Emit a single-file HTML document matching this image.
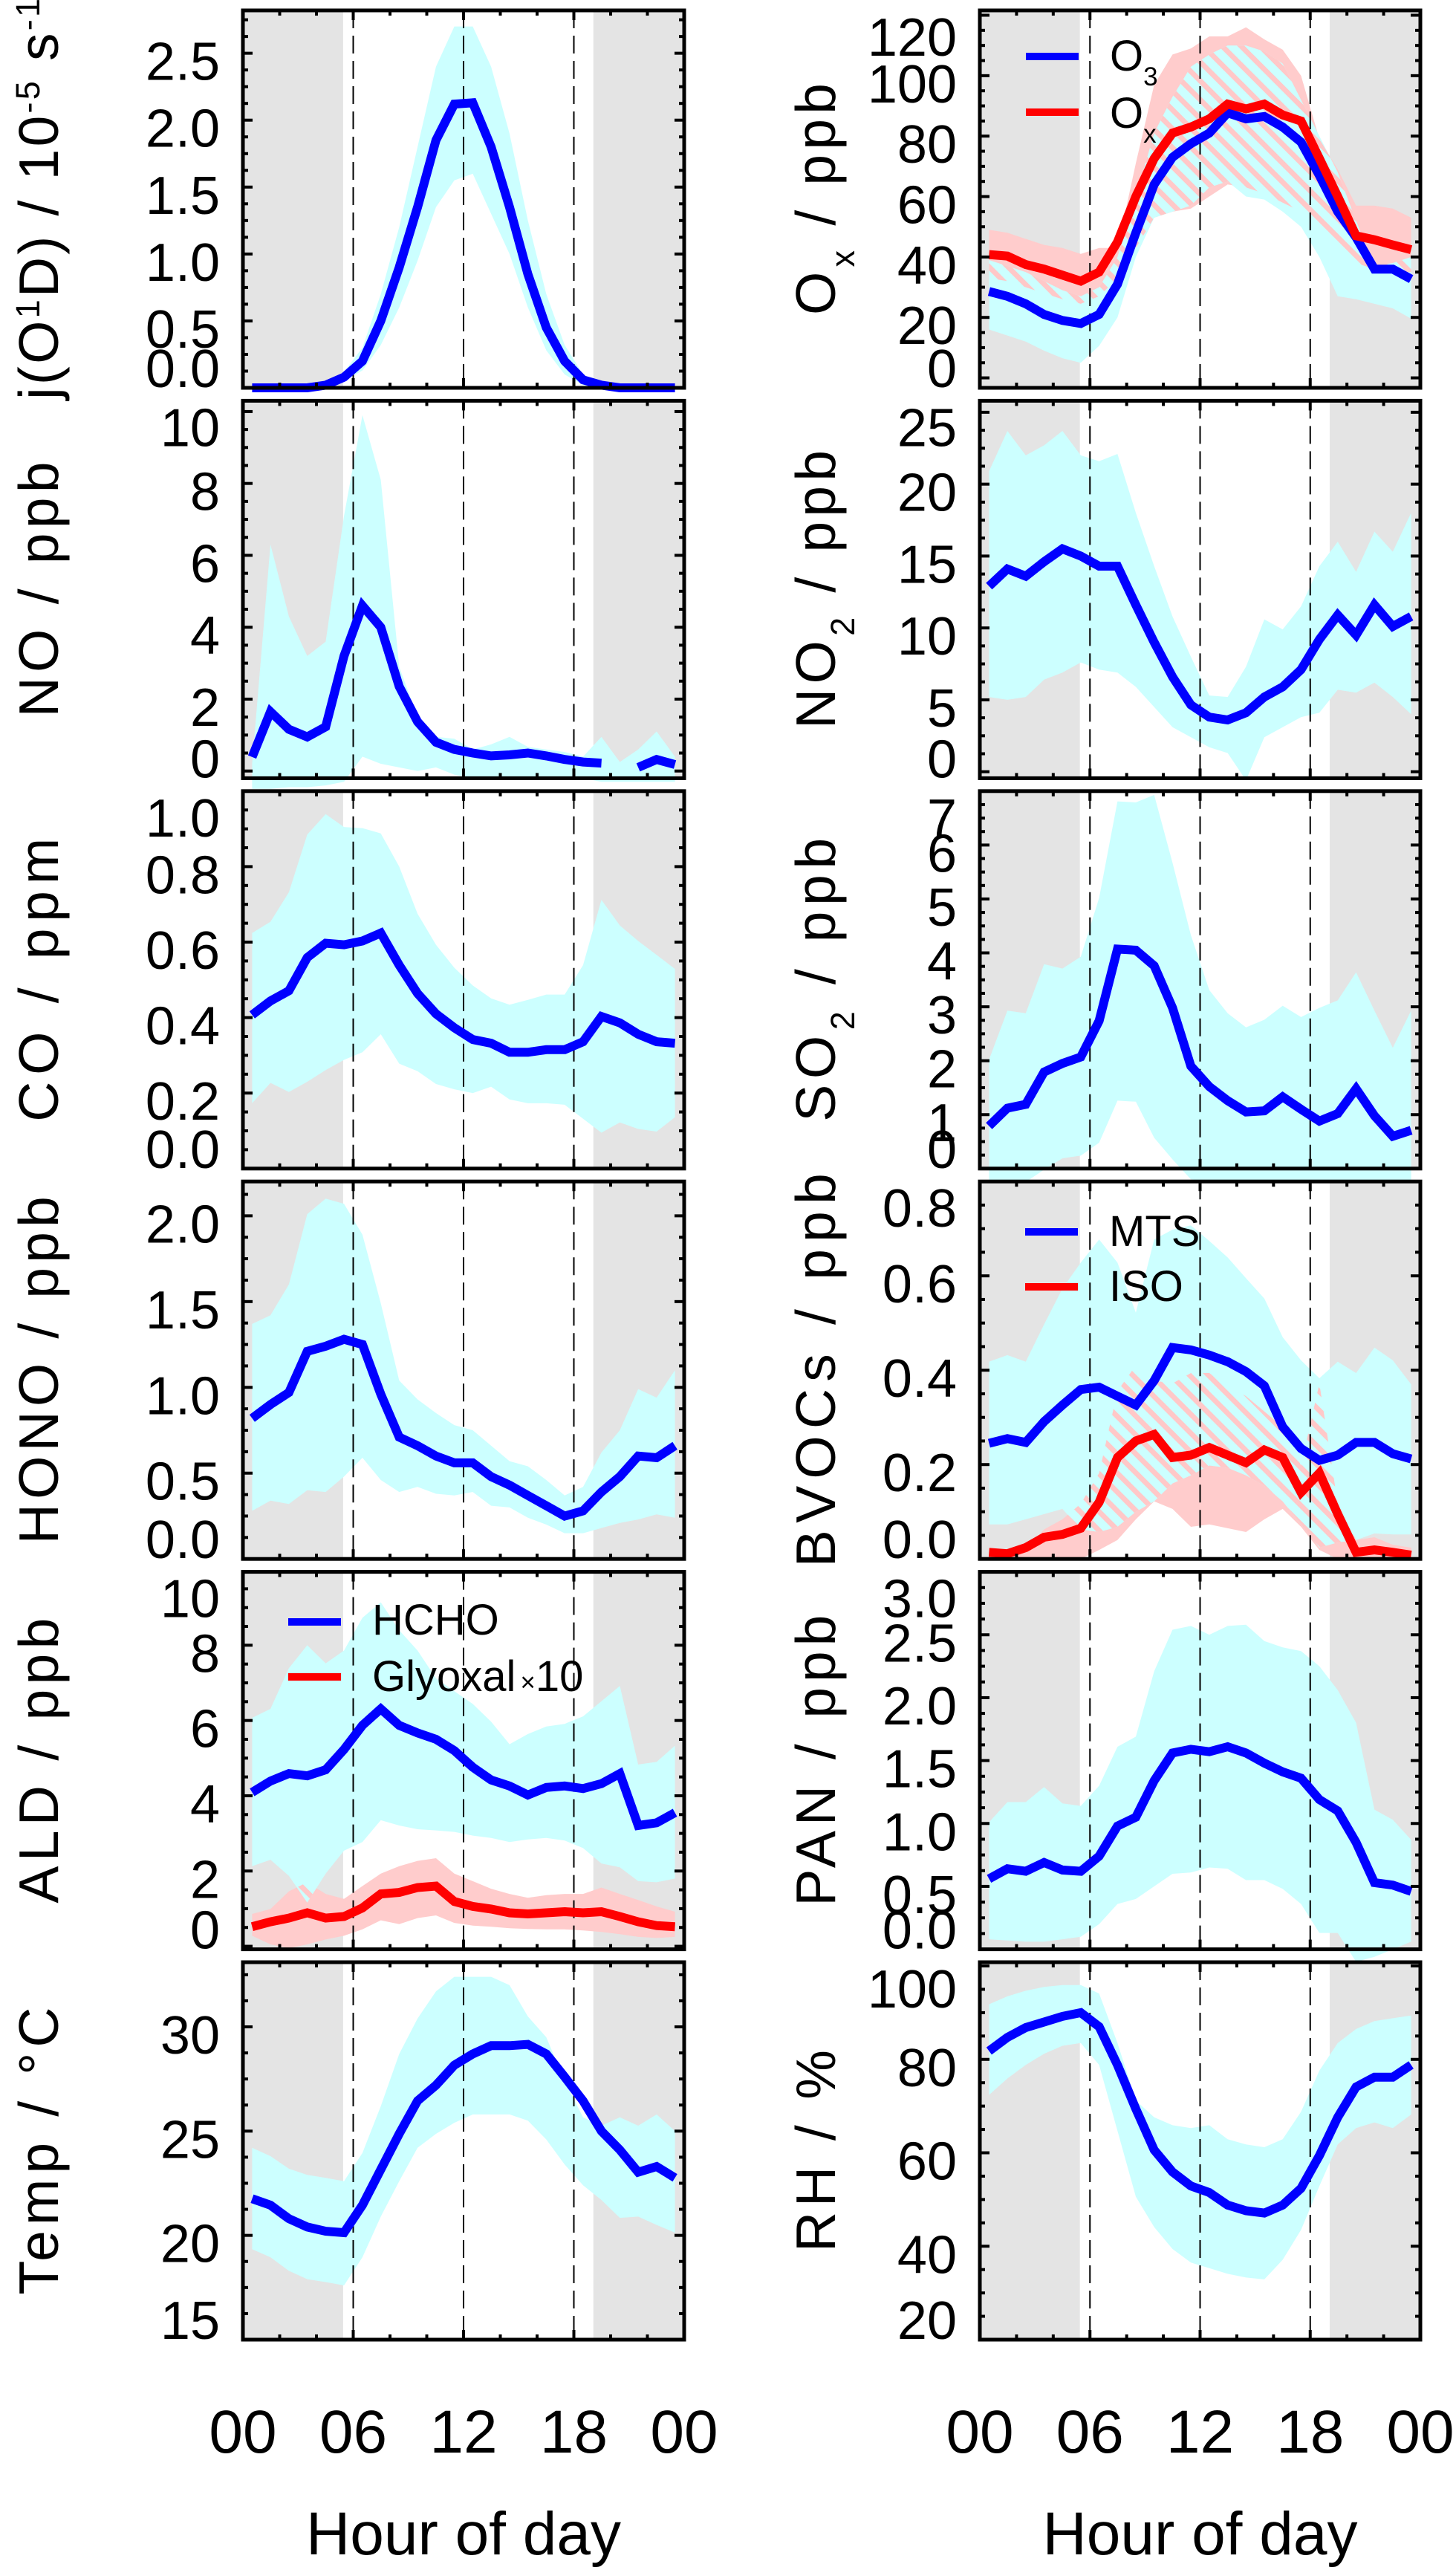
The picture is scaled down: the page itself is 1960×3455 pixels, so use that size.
<!DOCTYPE html>
<html><head><meta charset="utf-8"><style>
html,body{margin:0;padding:0;background:#fff;}
svg{display:block;font-family:"Liberation Sans",sans-serif;}
</style></head><body>
<svg id="chart" xmlns="http://www.w3.org/2000/svg" width="1960" height="3455" viewBox="0 0 1960 3455">
<defs>
<pattern id="hatch" patternUnits="userSpaceOnUse" width="18" height="18" patternTransform="rotate(-45)">
<rect x="0" y="0" width="7" height="18" fill="#ffc8c8"/>
</pattern>
</defs>
</svg>
<script>
const hours=[0.5,1.5,2.5,3.5,4.5,5.5,6.5,7.5,8.5,9.5,10.5,11.5,12.5,13.5,14.5,15.5,16.5,17.5,18.5,19.5,20.5,21.5,22.5,23.5];
const hourTicks=[0,6,12,18,24];
const hourLabels=["00","06","12","18","00"];
const nightStart=[0,19.06];
const nightEnd=[5.45,24];

const jMean=[0,0,0,0,0.02,0.08,0.2,0.5,0.9,1.35,1.85,2.12,2.13,1.8,1.35,0.85,0.45,0.2,0.06,0.02,0,0,0,0];
const jUp=[0,0,0,0,0.03,0.12,0.3,0.7,1.2,1.8,2.4,2.7,2.7,2.4,1.9,1.25,0.7,0.32,0.1,0.03,0,0,0,0];
const jLo=[0,0,0,0,0,0.05,0.13,0.32,0.6,0.95,1.35,1.55,1.6,1.3,1.0,0.6,0.28,0.1,0.02,0,0,0,0,0];
const jTicks=[0,0.5,1,1.5,2,2.5];
const jLabels=["0.0","0.5","1.0","1.5","2.0","2.5"];

const o3Mean=[28.6,27,24.5,21,19,18,21,31,48,64,73,77.5,81,87.7,85.7,86.5,83,78,67,55,46.5,36,36,32.7];
const o3Up=[39,37,35,32,29,27,30,40,60,81,93,103,107,110,110,108,104,92,80,68,52,37,38,40];
const o3Lo=[16,14,12,9,6.5,5,10.6,20,40,53,55,57,63,65,60,59,55,50,40,27,26,24.5,23,19.6];
const oxMean=[40.8,40.3,37.5,36,34,32,35,45,60,72.6,81,83,85.7,90.6,89,90.6,87,85,72.6,60,47,45.7,44,42.4];
const oxUp=[49,48,46,44,43,41,43,43,71,97,107,109,113,113,116,112,108.6,100,79,69,57,57,56,53];
const oxLo=[33,32,30,28,26,24.5,27,33,43,53,55,56,60,64,63,61,58,55,48,41.6,38,36,35,35];
const oTicks=[0,20,40,60,80,100,120];
const oLabels=["0","20","40","60","80","100","120"];

const noMean=[0.39,1.65,1.16,0.95,1.23,3.2,4.6,4.0,2.35,1.37,0.8,0.6,0.5,0.42,0.45,0.5,0.42,0.32,0.25,0.22,null,0.1,0.32,0.18];
const noUp=[0.2,6.3,4.3,3.2,3.6,7.1,9.9,8.1,2.9,1.5,0.95,0.9,0.6,0.74,0.95,0.67,0.6,0.53,0.4,0.95,0.25,0.6,1.1,0.4];
const noLo=[-0.5,-0.5,-0.45,-0.45,-0.4,-0.3,0.4,0.2,0.1,0,0.1,-0.1,-0.2,-0.2,-0.2,-0.2,-0.2,-0.2,-0.2,-0.3,-0.3,-0.3,-0.3,-0.3];
const noTicks=[0,2,4,6,8,10];
const noLabels=["0","2","4","6","8","10"];

const no2Mean=[12.9,14.1,13.6,14.6,15.5,15,14.3,14.3,11.6,9.0,6.6,4.65,3.8,3.6,4.1,5.2,5.9,7.1,9.2,10.9,9.5,11.6,10.1,10.8];
const no2Up=[20.9,23.7,22,22.7,23.7,22,21.6,22.1,18,14.3,10.8,8,5.3,5.2,7.3,10.6,9.9,11.5,14.3,16,13.9,16.7,15.3,18];
const no2Lo=[5.2,5,5.2,6.4,6.9,7.6,7.1,6.9,5.9,4.5,3.1,2.4,1.7,1.3,-0.6,2.4,3.1,3.8,4.1,5.7,5.5,6.2,5.2,4];
const no2Ticks=[0,5,10,15,20,25];
const no2Labels=["0","5","10","15","20","25"];

const coMean=[0.407,0.444,0.471,0.559,0.597,0.593,0.603,0.624,0.539,0.464,0.41,0.373,0.342,0.332,0.308,0.308,0.315,0.315,0.336,0.403,0.386,0.356,0.336,0.332];
const coUp=[0.624,0.654,0.732,0.885,0.939,0.905,0.902,0.888,0.8,0.675,0.593,0.532,0.485,0.451,0.434,0.447,0.461,0.461,0.539,0.712,0.644,0.603,0.566,0.529];
const coLo=[0.173,0.227,0.203,0.23,0.261,0.288,0.308,0.356,0.278,0.258,0.224,0.21,0.2,0.217,0.183,0.173,0.173,0.169,0.132,0.095,0.122,0.105,0.098,0.136];
const coTicks=[0,0.2,0.4,0.6,0.8,1.0];
const coLabels=["0.0","0.2","0.4","0.6","0.8","1.0"];

const so2Mean=[0.79,1.12,1.19,1.79,1.95,2.07,2.74,4.07,4.05,3.76,2.98,1.9,1.52,1.26,1.05,1.07,1.33,1.1,0.88,1.02,1.48,0.98,0.6,0.71];
const so2Up=[2.02,2.93,2.88,3.79,3.71,3.93,5.02,6.81,6.79,6.93,5.67,4.33,3.31,2.88,2.62,2.76,3.02,2.81,2.98,3.12,3.64,2.93,2.24,2.93];
const so2Lo=[-0.3,-0.3,-0.25,-0.02,0.19,0.24,0.48,1.26,1.24,0.57,0.17,-0.2,-0.25,-0.25,-0.25,-0.25,-0.25,-0.25,-0.25,-0.25,-0.25,-0.25,-0.25,-0.25];
const so2Ticks=[0,1,2,3,4,5,6,7];
const so2Labels=["0","1","2","3","4","5","6","7"];

const honoMean=[0.82,0.9,0.97,1.21,1.24,1.28,1.25,0.96,0.71,0.66,0.6,0.56,0.56,0.48,0.43,0.37,0.31,0.25,0.28,0.39,0.48,0.6,0.59,0.66];
const honoUp=[1.37,1.42,1.6,2.01,2.1,2.07,1.89,1.49,1.04,0.93,0.85,0.78,0.75,0.66,0.57,0.54,0.46,0.37,0.42,0.62,0.75,0.99,0.94,1.1];
const honoLo=[0.28,0.34,0.32,0.4,0.39,0.48,0.59,0.46,0.39,0.42,0.38,0.37,0.39,0.31,0.3,0.24,0.2,0.15,0.15,0.18,0.21,0.23,0.26,0.24];
const honoTicks=[0,0.5,1,1.5,2];
const honoLabels=["0.0","0.5","1.0","1.5","2.0"];

const mtsMean=[0.245,0.255,0.247,0.291,0.326,0.359,0.364,0.345,0.326,0.378,0.448,0.443,0.432,0.418,0.397,0.367,0.28,0.234,0.209,0.22,0.247,0.247,0.223,0.212];
const mtsUp=[0.418,0.432,0.418,0.497,0.573,0.628,0.677,0.628,0.522,0.677,0.698,0.707,0.674,0.639,0.595,0.552,0.47,0.421,0.383,0.418,0.394,0.448,0.421,0.37];
const mtsLo=[0.073,0.073,0.084,0.095,0.106,0.0625,0.057,0.068,0.1,0.122,0.16,0.177,0.198,0.193,0.177,0.155,0.122,0.073,0.024,0.035,0.04,0.054,0.052,0.052];
const isoMean=[0.014,0.011,0.024,0.046,0.052,0.065,0.12,0.215,0.25,0.264,0.215,0.22,0.236,0.22,0.204,0.231,0.215,0.141,0.182,0.095,0.014,0.019,0.014,0.008];
const isoUp=[0.008,0.015,0.02,0.0625,0.084,0.117,0.182,0.356,0.41,0.378,0.372,0.394,0.394,0.367,0.345,0.3125,0.28,0.198,0.372,0.117,0.04,0.046,0.03,0.024];
const isoLo=[0,0,0,0,0,0,0.019,0.04,0.084,0.122,0.106,0.068,0.073,0.065,0.057,0.084,0.106,0.068,0.019,0,0,0,0,0];
const bvTicks=[0,0.2,0.4,0.6,0.8];
const bvLabels=["0.0","0.2","0.4","0.6","0.8"];

const hchoMean=[4.09,4.39,4.59,4.53,4.69,5.23,5.87,6.31,5.87,5.67,5.5,5.2,4.76,4.42,4.26,4.02,4.22,4.26,4.19,4.32,4.59,3.21,3.28,3.55];
const hchoUp=[6.07,6.31,7.39,8.0,7.52,7.86,8.73,9.14,8.4,7.86,7.12,6.78,6.44,5.97,5.37,5.64,5.84,5.91,6.11,6.51,6.92,4.83,4.9,5.33];
const hchoLo=[2.13,2.3,1.87,1.16,1.93,2.54,2.77,3.35,3.21,3.11,3.08,3.04,2.94,2.88,2.77,2.84,2.88,2.81,2.61,2.2,2.1,1.73,1.7,1.8];
const glyMean=[0.52,0.65,0.75,0.89,0.75,0.79,1.02,1.39,1.43,1.56,1.6,1.19,1.06,0.99,0.89,0.86,0.89,0.92,0.89,0.92,0.79,0.65,0.55,0.52];
const glyUp=[0.86,0.99,1.46,1.7,1.39,1.26,1.6,1.93,2.13,2.27,2.34,1.93,1.73,1.53,1.39,1.29,1.36,1.39,1.39,1.56,1.39,1.23,1.06,0.92];
const glyLo=[0.28,0.05,-0.05,0.05,0.18,0.28,0.45,0.69,0.59,0.75,0.82,0.62,0.55,0.52,0.48,0.46,0.45,0.45,0.42,0.38,0.32,0.25,0.22,0.25];
const aldTicks=[0,2,4,6,8,10];
const aldLabels=["0","2","4","6","8","10"];

const panMean=[0.56,0.64,0.62,0.69,0.63,0.62,0.74,0.98,1.05,1.34,1.56,1.59,1.57,1.61,1.56,1.48,1.41,1.36,1.19,1.1,0.85,0.53,0.51,0.46];
const panUp=[1.01,1.17,1.17,1.29,1.16,1.14,1.3,1.61,1.69,2.21,2.54,2.57,2.5,2.57,2.58,2.45,2.4,2.37,2.25,2.06,1.8,1.11,1.03,0.87];
const panLo=[0.08,0.07,0.06,0.06,0.08,0.1,0.2,0.36,0.4,0.5,0.6,0.61,0.65,0.64,0.55,0.55,0.48,0.36,0.13,0.13,-0.1,-0.06,0,0.06];
const panTicks=[0,0.5,1,1.5,2,2.5,3];
const panLabels=["0.0","0.5","1.0","1.5","2.0","2.5","3.0"];

const tMean=[21.76,21.45,20.8,20.4,20.2,20.13,21.45,23.16,24.87,26.45,27.2,28.16,28.7,29.1,29.1,29.16,28.7,27.6,26.45,25,24.1,23.03,23.3,22.76];
const tUp=[24.2,23.8,23.2,22.9,22.76,22.6,23.95,26.2,28.7,30.4,31.7,32.4,32.4,32.4,32.0,30.5,29.5,27.4,25.66,25.26,25.66,25.26,25.8,25];
const tLo=[19.34,18.95,18.3,17.9,17.76,17.6,18.95,20.9,22.6,24.2,24.87,25.4,25.8,25.8,25.8,25.5,24.6,23.4,22.4,21.7,20.84,20.9,20.5,20.13];
const tTicks=[15,20,25,30];
const tLabels=["15","20","25","30"];

const rhMean=[81.8,84.7,86.8,88,89.2,90,87,78.8,69.4,60.6,55.9,52.9,51.5,48.8,47.6,47.1,48.8,52.4,59.4,67.6,74.1,76.2,76.2,78.8];
const rhUp=[91.8,93.5,94.7,95.5,95.9,95.9,94.1,83.5,71.2,67.6,65.9,65.3,65.9,62.9,61.8,61.2,62.9,68.8,77.6,83.5,86.5,88.2,88.8,89.4];
const rhLo=[72.4,75.9,78.8,81.2,82.9,83.5,78.8,64.7,50.6,44.1,39.4,36.5,35.3,34.1,33.3,32.9,37.1,43.5,52.9,61.8,65.3,66.5,65.3,68.2];
const rhTicks=[20,40,60,80,100];
const rhLabels=["20","40","60","80","100"];

const NS="http://www.w3.org/2000/svg";
const svg=document.getElementById('chart');
const COLS=[[327,921],[1319,1912]];
const TOP0=14, PITCH=525.4, PH=508;
const BLUE="#0000ff", RED="#ff0000", CYAN="#ccffff", PINK="#ffcccc";

function mk(tag,attrs,parent){const e=document.createElementNS(NS,tag);for(const k in attrs)e.setAttribute(k,attrs[k]);(parent||svg).appendChild(e);return e;}

const panels=[
 {id:'jo1d',col:0,row:0,ymin:0,ymax:2.82,ticks:jTicks,labels:jLabels,title:[['j(O'],['1','sup'],['D) / 10'],['-5','sup'],[' s'],['-1','sup']],tlen:540,
  bands:[{up:jUp,lo:jLo,fill:CYAN}],lines:[{v:jMean,c:BLUE}]},
 {id:'ox',col:1,row:0,ymin:-3.3,ymax:121.6,ticks:oTicks,labels:oLabels,title:[['O'],['x','sub'],[' / ppb']],tlen:312,
  bands:[{up:oxUp,lo:oxLo,fill:PINK},{up:o3Up,lo:o3Lo,fill:CYAN,hatchWith:0}],lines:[{v:o3Mean,c:BLUE},{v:oxMean,c:RED}],
  legend:[{c:BLUE,t:[['O'],['3','sub']],x:1381,y:76,by:95},{c:RED,t:[['O'],['x','sub']],x:1381,y:151,by:172}]},
 {id:'no',col:0,row:1,ymin:-0.2,ymax:10.3,ticks:noTicks,labels:noLabels,title:[['NO / ppb']],tlen:344,
  bands:[{up:noUp,lo:noLo,fill:CYAN}],lines:[{v:noMean,c:BLUE}]},
 {id:'no2',col:1,row:1,ymin:-0.45,ymax:25.8,ticks:no2Ticks,labels:no2Labels,title:[['NO'],['2','sub'],[' / ppb']],tlen:375,
  bands:[{up:no2Up,lo:no2Lo,fill:CYAN}],lines:[{v:no2Mean,c:BLUE}]},
 {id:'co',col:0,row:2,ymin:0,ymax:1.0,ticks:coTicks,labels:coLabels,title:[['CO / ppm']],tlen:382,
  bands:[{up:coUp,lo:coLo,fill:CYAN}],lines:[{v:coMean,c:BLUE}]},
 {id:'so2',col:1,row:2,ymin:0,ymax:7,ticks:so2Ticks,labels:so2Labels,title:[['SO'],['2','sub'],[' / ppb']],tlen:382,
  bands:[{up:so2Up,lo:so2Lo,fill:CYAN}],lines:[{v:so2Mean,c:BLUE}]},
 {id:'hono',col:0,row:3,ymin:0,ymax:2.2,ticks:honoTicks,labels:honoLabels,title:[['HONO / ppb']],tlen:468,
  bands:[{up:honoUp,lo:honoLo,fill:CYAN}],lines:[{v:honoMean,c:BLUE}]},
 {id:'bvocs',col:1,row:3,ymin:0,ymax:0.8,ticks:bvTicks,labels:bvLabels,title:[['BVOCs / ppb']],tlen:530,
  bands:[{up:isoUp,lo:isoLo,fill:PINK},{up:mtsUp,lo:mtsLo,fill:CYAN,hatchWith:0}],lines:[{v:mtsMean,c:BLUE},{v:isoMean,c:RED}],
  legend:[{c:BLUE,t:[['MTS']],x:1380,y:1658,by:1677},{c:RED,t:[['ISO']],x:1380,y:1732,by:1751}]},
 {id:'ald',col:0,row:4,ymin:-0.08,ymax:9.95,ticks:aldTicks,labels:aldLabels,title:[['ALD / ppb']],tlen:384,
  bands:[{up:glyUp,lo:glyLo,fill:PINK},{up:hchoUp,lo:hchoLo,fill:CYAN,hatchWith:0}],lines:[{v:hchoMean,c:BLUE},{v:glyMean,c:RED}],
  legend:[{c:BLUE,t:[['HCHO']],x:388,y:2183,by:2200},{c:RED,t:[['Glyoxal'],['\u00d7','small'],['10']],x:388,y:2257,by:2276}]},
 {id:'pan',col:1,row:4,ymin:0,ymax:3.0,ticks:panTicks,labels:panLabels,title:[['PAN / ppb']],tlen:392,
  bands:[{up:panUp,lo:panLo,fill:CYAN}],lines:[{v:panMean,c:BLUE}]},
 {id:'temp',col:0,row:5,ymin:15,ymax:33.1,ticks:tTicks,labels:tLabels,title:[['Temp / \u00b0C']],tlen:387,
  bands:[{up:tUp,lo:tLo,fill:CYAN}],lines:[{v:tMean,c:BLUE}]},
 {id:'rh',col:1,row:5,ymin:20,ymax:100.8,ticks:rhTicks,labels:rhLabels,title:[['RH / %']],tlen:272,
  bands:[{up:rhUp,lo:rhLo,fill:CYAN}],lines:[{v:rhMean,c:BLUE}]}
];

function addSpans(t,parts,fs){
  parts.forEach(p=>{
    const s=document.createElementNS(NS,'tspan');
    s.textContent=p[0];
    if(p[1]==='sup'){s.setAttribute('baseline-shift','super');s.setAttribute('font-size',Math.round(fs*0.6));}
    else if(p[1]==='sub'){s.setAttribute('baseline-shift','sub');s.setAttribute('font-size',Math.round(fs*0.6));}
    else if(p[1]==='small'){s.setAttribute('font-size',Math.round(fs*0.6));s.setAttribute('dx','6');}
    t.appendChild(s);
  });
}

panels.forEach(P=>{
  const x0=COLS[P.col][0], x1=COLS[P.col][1];
  const top=TOP0+PITCH*P.row, bot=top+PH;
  const xs=h=>x0+h/24*(x1-x0);
  const ys=v=>bot-(v-P.ymin)/(P.ymax-P.ymin)*PH;
  const g=mk('g',{});
  
  
  nightStart.forEach((s,i)=>{
    const r=mk('rect',{x:xs(s),y:top,width:xs(nightEnd[i])-xs(s),height:PH,fill:'#e4e4e4'},g);
    
    
  });
  const bandPaths=[];
  P.bands.forEach((B,bi)=>{
    let d='';
    hours.forEach((h,i)=>{d+=(i?'L':'M')+xs(h).toFixed(1)+','+ys(B.up[i]).toFixed(1);});
    for(let i=hours.length-1;i>=0;i--)d+='L'+xs(hours[i]).toFixed(1)+','+ys(B.lo[i]).toFixed(1);
    d+='Z';
    bandPaths.push(d);
    const p=mk('path',{d:d,fill:B.fill,stroke:'none'},g);
    
    
    if(B.hatchWith!==undefined){
      const cid='clip-'+P.id;
      const cp=mk('clipPath',{id:cid},g);
      mk('path',{d:d},cp);
      const hp=mk('path',{d:bandPaths[B.hatchWith],fill:'url(#hatch)','clip-path':'url(#'+cid+')'},g);
      
      
    }
  });
  [6,12,18].forEach(h=>{
    const l=mk('line',{x1:xs(h),x2:xs(h),y1:top,y2:bot,stroke:'#000','stroke-width':2,'stroke-dasharray':'24,10'},g);
    
    
  });
  P.lines.forEach((L,li)=>{
    let d='',pen=false;
    hours.forEach((h,i)=>{
      const v=L.v[i];
      if(v===null){pen=false;return;}
      d+=(pen?'L':'M')+xs(h).toFixed(1)+','+ys(v).toFixed(1);pen=true;
    });
    const p=mk('path',{d:d,fill:'none',stroke:L.c,'stroke-width':12,'stroke-linejoin':'miter','stroke-linecap':'butt'},g);
    
    
  });
  const fr=mk('rect',{x:x0,y:top,width:x1-x0,height:PH,fill:'none',stroke:'#000','stroke-width':5},g);
  
  
  for(let h=2;h<24;h+=2){
    const len=(h%6===0)?13:7;
    mk('line',{x1:xs(h),x2:xs(h),y1:bot,y2:bot-len,stroke:'#000','stroke-width':4},g);
    mk('line',{x1:xs(h),x2:xs(h),y1:top,y2:top+len,stroke:'#000','stroke-width':4},g);
  }
  const step=P.ticks[1]-P.ticks[0], mstep=step/4;
  for(let k=-8;k<200;k++){
    const v=P.ticks[0]+k*mstep;
    if(v<P.ymin-1e-9||v>P.ymax+1e-9)continue;
    const y=ys(v);
    if(y>bot-3||y<top+3)continue;
    const len=(k%4===0)?13:7;
    mk('line',{x1:x0,x2:x0+len,y1:y,y2:y,stroke:'#000','stroke-width':4},g);
    mk('line',{x1:x1,x2:x1-len,y1:y,y2:y,stroke:'#000','stroke-width':4},g);
  }
  const lx=(P.col===0)?296:1288;
  P.ticks.forEach((v,i)=>{
    let cy=ys(v)+10;
    cy=Math.max(top+35,Math.min(bot-27,cy));
    const t=mk('text',{x:lx,y:(cy+26).toFixed(1),'font-size':72,'text-anchor':'end',fill:'#000'},g);
    t.textContent=P.labels[i];
    
    
  });
  const tx=(P.col===0)?78:1124, ty=top+PH/2;
  const tt=mk('text',{transform:'translate('+tx+','+ty+') rotate(-90)','font-size':75,'text-anchor':'middle',textLength:P.tlen,lengthAdjust:'spacing',fill:'#000'},g);
  addSpans(tt,P.title,75);
  
  
  if(P.legend){
    P.legend.forEach(Lg=>{
      const lg=mk('g',{},g);
      
      
      mk('line',{x1:Lg.x,x2:Lg.x+71,y1:Lg.y,y2:Lg.y,stroke:Lg.c,'stroke-width':10},lg);
      const t=mk('text',{x:Lg.x+113,y:Lg.by,'font-size':58,fill:'#000'},lg);
      addSpans(t,Lg.t,58);
    });
  }
});

COLS.forEach((c,ci)=>{
  const xs=h=>c[0]+h/24*(c[1]-c[0]);
  hourTicks.forEach((h,i)=>{
    const t=mk('text',{x:xs(h),y:3301,'font-size':82,'text-anchor':'middle',fill:'#000'});
    t.textContent=hourLabels[i];
    
    
  });
  const t=mk('text',{x:(c[0]+c[1])/2,y:3438,'font-size':82,'text-anchor':'middle',fill:'#000'});
  t.textContent='Hour of day';
  
  
});
</script>
</body></html>
